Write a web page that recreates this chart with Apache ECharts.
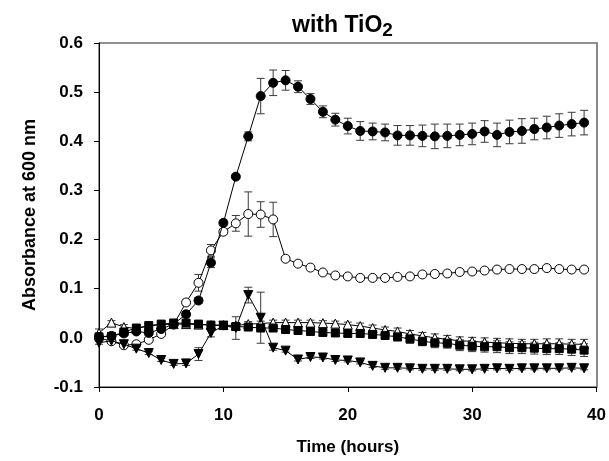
<!DOCTYPE html>
<html>
<head>
<meta charset="utf-8">
<script src="https://cdn.jsdelivr.net/npm/echarts@6/dist/echarts.min.js"></script>
<style>
  html, body { margin: 0; padding: 0; background: #fff; }
  #chart { width: 609px; height: 461px; }
</style>
</head>
<body>
<div id="chart"></div>
<script>
const hours = [0, 1, 2, 3, 4, 5, 6, 7, 8, 9, 10, 11, 12, 13, 14, 15, 16, 17, 18, 19,
  20, 21, 22, 23, 24, 25, 26, 27, 28, 29, 30, 31, 32, 33, 34, 35, 36, 37, 38, 39]

// filled circles
const filledCircle = [0.002, 0.004, 0.009, 0.013, 0.010, 0.018, 0.028, 0.048, 0.076, 0.153,
  0.234, 0.328, 0.410, 0.492, 0.519, 0.524, 0.511, 0.486, 0.460, 0.444,
  0.431, 0.421, 0.420, 0.418, 0.412, 0.412, 0.411, 0.410, 0.411, 0.413,
  0.415, 0.420, 0.413, 0.419, 0.421, 0.425, 0.428, 0.432, 0.435, 0.438]
const filledCircleErr = [0.004, 0.004, 0.004, 0.004, 0.004, 0.004, 0.004, 0.005, 0.006, 0.010,
  0.006, 0.004, 0.009, 0.036, 0.026, 0.020, 0.012, 0.011, 0.012, 0.013,
  0.016, 0.019, 0.017, 0.017, 0.020, 0.020, 0.022, 0.025, 0.024, 0.022,
  0.022, 0.022, 0.024, 0.024, 0.025, 0.022, 0.023, 0.024, 0.024, 0.025]

// open circles
const openCircle = [0.000, -0.007, -0.015, -0.013, -0.004, 0.008, 0.027, 0.072, 0.112, 0.178,
  0.216, 0.233, 0.252, 0.251, 0.241, 0.161, 0.151, 0.143, 0.133, 0.127,
  0.125, 0.122, 0.122, 0.122, 0.124, 0.125, 0.129, 0.130, 0.131, 0.134,
  0.135, 0.137, 0.139, 0.140, 0.140, 0.140, 0.142, 0.140, 0.139, 0.139]
const openCircleErr = [0.003, 0.003, 0.003, 0.003, 0.003, 0.003, 0.003, 0.006, 0.017, 0.012,
  0.005, 0.016, 0.045, 0.026, 0.035, 0.003, 0.003, 0.003, 0.003, 0.003,
  0.003, 0.003, 0.003, 0.003, 0.003, 0.003, 0.003, 0.003, 0.003, 0.003,
  0.003, 0.003, 0.003, 0.003, 0.003, 0.003, 0.003, 0.003, 0.003, 0.003]

// filled triangles (down)
const filledTri = [-0.010, -0.006, -0.013, -0.022, -0.031, -0.045, -0.053, -0.052, -0.033, 0.010,
  0.025, 0.020, 0.087, 0.041, -0.020, -0.026, -0.044, -0.039, -0.040, -0.045,
  -0.046, -0.050, -0.057, -0.061, -0.061, -0.062, -0.063, -0.063, -0.063, -0.064,
  -0.064, -0.063, -0.062, -0.063, -0.062, -0.062, -0.062, -0.062, -0.061, -0.062]
const filledTriErr = [0.003, 0.003, 0.003, 0.003, 0.003, 0.003, 0.003, 0.004, 0.013, 0.008,
  0.003, 0.023, 0.016, 0.052, 0.005, 0.003, 0.003, 0.003, 0.003, 0.003,
  0.003, 0.003, 0.003, 0.003, 0.003, 0.003, 0.003, 0.003, 0.003, 0.003,
  0.003, 0.003, 0.003, 0.003, 0.003, 0.003, 0.003, 0.003, 0.003, 0.003]

// open triangles (up)
const openTri = [0.010, 0.031, 0.022, 0.019, 0.024, 0.027, 0.028, 0.028, 0.027, 0.026,
  0.026, 0.025, 0.028, 0.029, 0.031, 0.031, 0.031, 0.031, 0.030, 0.029,
  0.027, 0.024, 0.020, 0.016, 0.013, 0.008, 0.004, 0.000, -0.003, -0.006,
  -0.007, -0.009, -0.010, -0.011, -0.012, -0.012, -0.012, -0.012, -0.013, -0.013]
const openTriErr = [0.008, 0.004, 0.005, 0.005, 0.005, 0.005, 0.005, 0.005, 0.005, 0.005,
  0.005, 0.005, 0.005, 0.005, 0.005, 0.005, 0.005, 0.005, 0.005, 0.005,
  0.005, 0.006, 0.006, 0.006, 0.007, 0.007, 0.007, 0.008, 0.008, 0.008,
  0.008, 0.009, 0.009, 0.009, 0.009, 0.009, 0.010, 0.010, 0.010, 0.010]

// filled squares
const squares = [0.002, 0.003, 0.012, 0.020, 0.025, 0.028, 0.030, 0.030, 0.028, 0.026,
  0.025, 0.023, 0.022, 0.020, 0.020, 0.017, 0.015, 0.013, 0.011, 0.010,
  0.009, 0.009, 0.007, 0.005, 0.002, -0.002, -0.007, -0.010, -0.011, -0.015,
  -0.017, -0.018, -0.018, -0.020, -0.020, -0.021, -0.022, -0.022, -0.023, -0.025]
const squaresErr = [0.004, 0.004, 0.004, 0.004, 0.005, 0.005, 0.008, 0.005, 0.005, 0.005,
  0.005, 0.005, 0.005, 0.005, 0.005, 0.005, 0.005, 0.006, 0.006, 0.006,
  0.006, 0.007, 0.007, 0.008, 0.008, 0.009, 0.009, 0.010, 0.010, 0.011,
  0.011, 0.011, 0.012, 0.012, 0.012, 0.012, 0.012, 0.012, 0.013, 0.013]

const font = 'Liberation Sans, Arial, sans-serif'

function errData(vals, errs) {
  return hours.map((h, i) => [h, vals[i] - errs[i], vals[i] + errs[i]])
}

function renderErr(params, api) {
  const x = api.value(0)
  const lo = api.coord([x, api.value(1)])
  const hi = api.coord([x, api.value(2)])
  const w = 4
  const style = { stroke: '#3a3a3a', lineWidth: 1 }
  return {
    type: 'group',
    children: [
      { type: 'line', shape: { x1: lo[0], y1: lo[1], x2: hi[0], y2: hi[1] }, style },
      { type: 'line', shape: { x1: lo[0] - w, y1: lo[1], x2: lo[0] + w, y2: lo[1] }, style },
      { type: 'line', shape: { x1: hi[0] - w, y1: hi[1], x2: hi[0] + w, y2: hi[1] }, style }
    ]
  }
}

function errSeries(vals, errs) {
  return {
    type: 'custom',
    renderItem: renderErr,
    data: errData(vals, errs),
    encode: { x: 0, y: [1, 2] },
    z: 1,
    silent: true
  }
}

function lineSeries(vals, symbol, fill, rotate, size, z) {
  return {
    type: 'line',
    data: hours.map((h, i) => [h, vals[i]]),
    symbol,
    symbolSize: size,
    symbolRotate: rotate,
    showAllSymbol: true,
    lineStyle: { color: '#000', width: 1 },
    itemStyle: { color: fill, borderColor: '#000', borderWidth: 1 },
    z,
    animation: false
  }
}

const chart = echarts.init(document.getElementById('chart'))
chart.setOption({
  animation: false,
  title: {
    text: '{a|with TiO}{b|2}',
    left: 287,
    top: 6,
    textStyle: {
      rich: {
        a: { fontFamily: font, fontWeight: 'bold', fontSize: 23, color: '#000' },
        b: { fontFamily: font, fontWeight: 'bold', fontSize: 19, color: '#000', padding: [10, 0, 0, 0] }
      }
    }
  },
  grid: { left: 99, right: 12, top: 43, bottom: 72, show: true, borderColor: '#222', borderWidth: 1 },
  xAxis: {
    type: 'value',
    min: 0,
    max: 40,
    interval: 10,
    name: 'Time (hours)',
    nameLocation: 'middle',
    nameGap: 52,
    nameTextStyle: { fontFamily: font, fontWeight: 'bold', fontSize: 17, color: '#000' },
    axisLine: { show: true, onZero: false, lineStyle: { color: '#000', width: 1 } },
    axisTick: { show: true, inside: false, length: 5, lineStyle: { color: '#000' } },
    axisLabel: { fontFamily: font, fontWeight: 'bold', fontSize: 17, color: '#000', margin: 20 },
    splitLine: { show: false }
  },
  yAxis: [{
    type: 'value',
    min: -0.1,
    max: 0.6,
    interval: 0.1,
    name: 'Absorbance at 600 nm',
    nameLocation: 'middle',
    nameGap: 60,
    nameTextStyle: { fontFamily: font, fontWeight: 'bold', fontSize: 18, color: '#000' },
    axisLine: { show: true, onZero: false, lineStyle: { color: '#000', width: 1 } },
    axisTick: { show: true, inside: false, length: 5, lineStyle: { color: '#000' } },
    axisLabel: {
      fontFamily: font, fontWeight: 'bold', fontSize: 17, color: '#000', margin: 16,
      formatter: v => v.toFixed(1)
    },
    splitLine: { show: false }
  }, {
    type: 'value',
    position: 'right',
    min: -0.1,
    max: 0.6,
    axisLine: { show: true, onZero: false, lineStyle: { color: '#888', width: 2 } },
    axisTick: { show: false },
    axisLabel: { show: false },
    splitLine: { show: false }
  }],
  series: [
    errSeries(openTri, openTriErr),
    errSeries(squares, squaresErr),
    errSeries(openCircle, openCircleErr),
    errSeries(filledCircle, filledCircleErr),
    errSeries(filledTri, filledTriErr),
    lineSeries(openTri, 'triangle', '#fff', 0, 9, 2),
    lineSeries(squares, 'rect', '#000', 0, 8, 3),
    lineSeries(openCircle, 'circle', '#fff', 0, 9, 4),
    lineSeries(filledCircle, 'circle', '#000', 0, 9, 5),
    lineSeries(filledTri, 'triangle', '#000', 180, 9, 6)
  ]
})
</script>
</body>
</html>
